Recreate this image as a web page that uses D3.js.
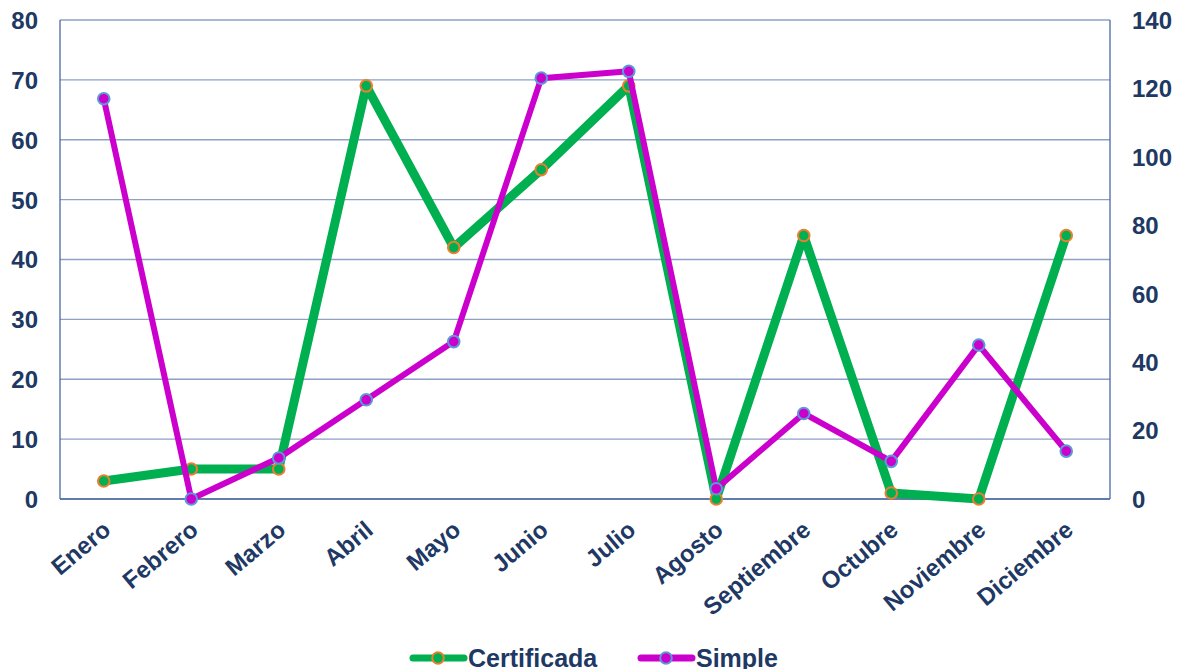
<!DOCTYPE html>
<html>
<head>
<meta charset="utf-8">
<script src="https://cdn.jsdelivr.net/npm/d3@7"></script>
<style>
  body { margin: 0; background: #fff; }
  svg text { font-family: "Liberation Sans", Arial, sans-serif; font-weight: bold; fill: #203864; }
</style>
</head>
<body>
<svg id="chart" width="1177" height="669"></svg>
<script>
const months = ['Enero', 'Febrero', 'Marzo', 'Abril', 'Mayo', 'Junio', 'Julio', 'Agosto', 'Septiembre', 'Octubre', 'Noviembre', 'Diciembre'];
const certificada = [3, 5, 5, 69, 42, 55, 69, 0, 44, 1, 0, 44];
const simple = [117, 0, 12, 29, 46, 123, 125, 3, 25, 11, 45, 14];
const leftTicks = [0, 10, 20, 30, 40, 50, 60, 70, 80];
const rightTicks = [0, 20, 40, 60, 80, 100, 120, 140];

const svg = d3.select('#chart');
const margin = { top: 20, right: 67, bottom: 170, left: 60 };
const width = 1177 - margin.left - margin.right;
const height = 669 - margin.top - margin.bottom;

const g = svg.append('g').attr('transform', `translate(${margin.left},${margin.top})`);

const x = d3.scalePoint().domain(months).range([0, width]).padding(0.5);
const yL = d3.scaleLinear().domain([0, 80]).range([height, 0]);
const yR = d3.scaleLinear().domain([0, 140]).range([height, 0]);

const gridColor = '#8EA0C4';
const axisColor = '#4A67A3';

// gridlines
g.selectAll('.grid')
    .data(leftTicks)
    .enter()
    .append('line')
    .attr('x1', 0).attr('x2', width)
    .attr('y1', d => yL(d)).attr('y2', d => yL(d))
    .style('stroke', gridColor)
    .style('stroke-width', 1.3);

// plot frame sides
g.append('line').attr('x1', 0).attr('x2', 0).attr('y1', 0).attr('y2', height)
    .style('stroke', axisColor).style('stroke-width', 1.3);
g.append('line').attr('x1', width).attr('x2', width).attr('y1', 0).attr('y2', height)
    .style('stroke', axisColor).style('stroke-width', 1.3);
g.append('line').attr('x1', 0).attr('x2', width).attr('y1', height).attr('y2', height)
    .style('stroke', axisColor).style('stroke-width', 1.3);

// left axis labels
const leftAxis = g.append('g').call(d3.axisLeft(yL).tickValues(leftTicks).tickSize(0).tickPadding(22));
leftAxis.select('.domain').remove();
leftAxis.selectAll('text').style('font-size', '24px').attr('dy', '0.35em');

// right axis labels
const rightAxis = g.append('g').attr('transform', `translate(${width},0)`)
    .call(d3.axisRight(yR).tickValues(rightTicks).tickSize(0).tickPadding(22));
rightAxis.select('.domain').remove();
rightAxis.selectAll('text').style('font-size', '24px').attr('dy', '0.35em');

// category labels
g.selectAll('.cat')
    .data(months)
    .enter()
    .append('text')
    .attr('class', 'cat')
    .attr('transform', d => `translate(${x(d) + 3},${height + 27}) rotate(-40)`)
    .attr('text-anchor', 'end')
    .attr('dy', '0.35em')
    .style('font-size', '24px')
    .text(d => d);

const series = [
    { name: 'Certificada', values: certificada, y: yL, color: '#00B050', stroke: '#ED7D31', width: 9 },
    { name: 'Simple', values: simple, y: yR, color: '#CC00CC', stroke: '#5B9BD5', width: 6 }
];

series.forEach(s => {
    const line = d3.line()
        .x((d, i) => x(months[i]))
        .y(d => s.y(d));
    g.append('path')
        .datum(s.values)
        .attr('d', line)
        .style('fill', 'none')
        .style('stroke', s.color)
        .style('stroke-width', s.width)
        .style('stroke-linejoin', 'round');
    g.selectAll(null)
        .data(s.values)
        .enter()
        .append('circle')
        .attr('cx', (d, i) => x(months[i]))
        .attr('cy', d => s.y(d))
        .attr('r', 5.8)
        .style('fill', s.color)
        .style('stroke', s.stroke)
        .style('stroke-width', 2);
});

// legend
const legend = svg.append('g').attr('transform', 'translate(410,658)');
const legendX = [0, 228];
series.forEach((s, i) => {
    const lg = legend.append('g').attr('transform', `translate(${legendX[i]},0)`);
    lg.append('line').attr('x1', 3).attr('x2', 54).attr('y1', 0).attr('y2', 0)
        .style('stroke', s.color).style('stroke-width', 7).style('stroke-linecap', 'round');
    lg.append('circle').attr('cx', 28).attr('cy', 0).attr('r', 5.8)
        .style('fill', s.color).style('stroke', s.stroke).style('stroke-width', 2);
    lg.append('text').attr('x', 58).attr('dy', '0.35em').style('font-size', '25px').text(s.name);
});
</script>
</body>
</html>
